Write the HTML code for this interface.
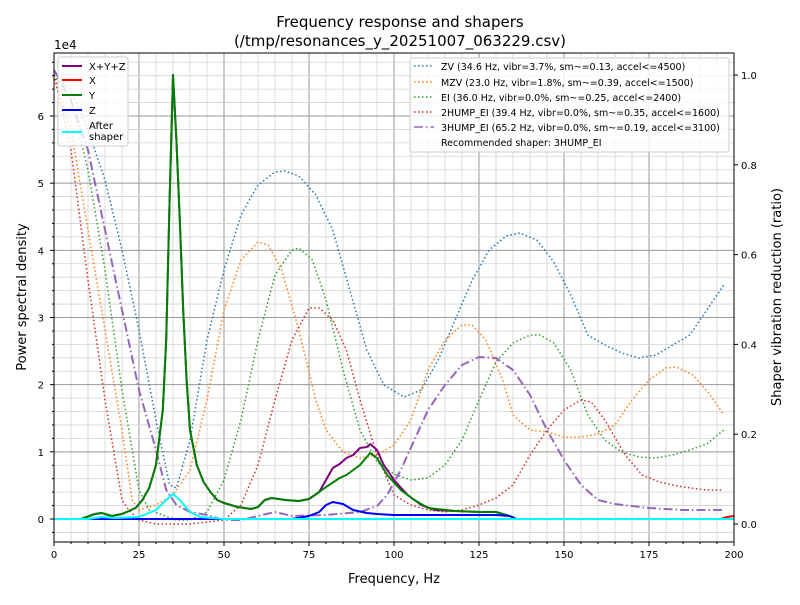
<!DOCTYPE html>
<html><head><meta charset="utf-8"><style>
body{margin:0;background:#fff;}
svg text{font-family:"DejaVu Sans","Liberation Sans",sans-serif;}
</style></head><body>
<svg id="s" width="800" height="600" xmlns="http://www.w3.org/2000/svg">
<rect width="800" height="600" fill="#fff"/>
<g id="grid"></g>
<g id="curves"></g>
<rect x="54" y="53" width="680" height="489" fill="none" stroke="#000" stroke-width="1"/>
<g id="ticks"></g>
<text x="400" y="27" font-size="15" text-anchor="middle">Frequency response and shapers</text>
<text x="400" y="46" font-size="15" text-anchor="middle">(/tmp/resonances_y_20251007_063229.csv)</text>
<text x="54" y="49" font-size="12">1e4</text>
<text x="394" y="583" font-size="13" text-anchor="middle">Frequency, Hz</text>
<text transform="translate(26,297) rotate(-90)" font-size="13" text-anchor="middle">Power spectral density</text>
<text transform="translate(781,297) rotate(-90)" font-size="13" text-anchor="middle">Shaper vibration reduction (ratio)</text>
<g id="leg1">
<rect x="58" y="57" width="70" height="89" fill="#fff" fill-opacity="0.8" stroke="#ccc" rx="2"/>
<line x1="62" y1="66" x2="82" y2="66" stroke="#800080" stroke-width="2"/><text x="89" y="70" font-size="10">X+Y+Z</text>
<line x1="62" y1="80" x2="82" y2="80" stroke="#f00" stroke-width="2"/><text x="89" y="84" font-size="10">X</text>
<line x1="62" y1="95" x2="82" y2="95" stroke="#008000" stroke-width="2"/><text x="89" y="99" font-size="10">Y</text>
<line x1="62" y1="110" x2="82" y2="110" stroke="#00f" stroke-width="2"/><text x="89" y="114" font-size="10">Z</text>
<line x1="62" y1="132" x2="82" y2="132" stroke="#0ff" stroke-width="2"/><text x="89" y="129" font-size="10">After</text><text x="89" y="140" font-size="10">shaper</text>
</g>
<g id="leg2">
<rect x="410" y="58" width="319" height="94" fill="#fff" fill-opacity="0.8" stroke="#ccc" rx="2"/>
<line x1="414" y1="66" x2="434" y2="66" stroke="#1f77b4" stroke-width="1.5" stroke-dasharray="1.5,2.5"/><text x="441" y="70" font-size="9.5">ZV (34.6 Hz, vibr=3.7%, sm~=0.13, accel&lt;=4500)</text>
<line x1="414" y1="82" x2="434" y2="82" stroke="#ff7f0e" stroke-width="1.5" stroke-dasharray="1.5,2.5"/><text x="441" y="86" font-size="9.5">MZV (23.0 Hz, vibr=1.8%, sm~=0.39, accel&lt;=1500)</text>
<line x1="414" y1="97" x2="434" y2="97" stroke="#2ca02c" stroke-width="1.5" stroke-dasharray="1.5,2.5"/><text x="441" y="101" font-size="9.5">EI (36.0 Hz, vibr=0.0%, sm~=0.25, accel&lt;=2400)</text>
<line x1="414" y1="112" x2="434" y2="112" stroke="#d62728" stroke-width="1.5" stroke-dasharray="1.5,2.5"/><text x="441" y="116" font-size="9.5">2HUMP_EI (39.4 Hz, vibr=0.0%, sm~=0.35, accel&lt;=1600)</text>
<line x1="414" y1="127" x2="434" y2="127" stroke="#9467bd" stroke-width="1.5" stroke-dasharray="9,3,1.5,3"/><text x="441" y="131" font-size="9.5">3HUMP_EI (65.2 Hz, vibr=0.0%, sm~=0.19, accel&lt;=3100)</text>
<text x="441" y="146" font-size="9.5">Recommended shaper: 3HUMP_EI</text>
</g>
</svg>
<script>
var NS="http://www.w3.org/2000/svg";
function el(p,t,a){var e=document.createElementNS(NS,t);for(var k in a)e.setAttribute(k,a[k]);p.appendChild(e);return e;}
var G=document.getElementById('grid'),T=document.getElementById('ticks'),C=document.getElementById('curves');
function fx(f){return 54+3.4*f;}
function ly(v){return 519-67.17*v;}
for(var f=5;f<200;f+=5){var maj=f%25==0;el(G,'line',{x1:fx(f),x2:fx(f),y1:53,y2:542,stroke:maj?'#999':'#d3d3d3','stroke-width':maj?1:0.8});}
for(var i=-1;i<=34;i++){var v=i*0.2;var y=ly(v);if(y<53||y>542)continue;var maj=i%5==0;el(G,'line',{x1:54,x2:734,y1:y,y2:y,stroke:maj?'#999':'#d3d3d3','stroke-width':maj?1:0.8});}
for(var f=0;f<=200;f+=5){var maj=f%25==0;el(T,'line',{x1:fx(f),x2:fx(f),y1:542,y2:542+(maj?4:2),stroke:'#000'});if(maj){var t=el(T,'text',{x:fx(f),y:558,'font-size':10,'text-anchor':'middle'});t.textContent=f;}}
for(var i=-1;i<=34;i++){var y=ly(i*0.2);if(y<53||y>542)continue;var maj=i%5==0;el(T,'line',{x1:54,x2:54-(maj?4:2),y1:y,y2:y,stroke:'#000'});if(maj){var t=el(T,'text',{x:44,y:y+4,'font-size':10,'text-anchor':'end'});t.textContent=i/5;}}
for(var i=0;i<=5;i++){var y=524-449*i*0.2;el(T,'line',{x1:734,x2:738,y1:y,y2:y,stroke:'#000'});var t=el(T,'text',{x:741,y:y+4,'font-size':10});t.textContent=(i*0.2).toFixed(1);}
function draw(pts,col,w,dash){var d=pts.map(function(p,i){return (i?'L':'M')+fx(p[0]).toFixed(1)+','+p[1];}).join(' ');var a={d:d,fill:'none',stroke:col,'stroke-width':w,'stroke-linejoin':'round'};if(dash)a['stroke-dasharray']=dash;el(C,'path',a);}
var dot='1.5,2.5';
draw([[0,75],[5,90],[10,130],[15,180],[20,250],[25,330],[30,420],[34,485],[36,488],[40,440],[45,340],[50,270],[55,215],[60,185],[65,172],[68,171],[72,176],[77,195],[82,230],[87,290],[92,350],[97,385],[103,397],[108,390],[113,360],[118,320],[123,280],[128,250],[133,236],[137,233],[142,240],[147,262],[152,295],[157,335],[162,345],[167,353],[172,358],[177,355],[182,345],[187,335],[192,310],[197,285]],'#1f77b4',1.5,dot);
draw([[0,75],[5,130],[10,230],[15,330],[20,430],[23,500],[25,510],[30,505],[35,495],[40,470],[45,400],[50,310],[55,260],[60,242],[63,245],[67,270],[72,330],[77,400],[80,430],[85,452],[90,458],[95,455],[100,445],[105,420],[110,370],[115,340],[120,325],[123,325],[127,340],[132,380],[135,415],[140,430],[145,432],[150,437],[155,437],[160,434],[165,425],[170,400],[175,380],[180,368],[183,367],[188,375],[193,395],[197,415]],'#ff7f0e',1.5,dot);
draw([[0,75],[5,100],[10,170],[15,270],[20,390],[25,490],[28,510],[32,515],[36,520],[40,520],[45,512],[50,480],[55,420],[60,340],[65,275],[70,250],[72,248],[76,260],[80,300],[85,370],[90,430],[95,462],[100,474],[105,480],[110,478],[115,465],[120,440],[125,400],[130,362],[135,343],[140,335],[143,335],[147,343],[152,370],[157,415],[162,440],[167,452],[172,457],[177,458],[182,455],[187,450],[192,444],[197,430]],'#2ca02c',1.5,dot);
draw([[0,75],[5,150],[10,280],[15,400],[18,460],[20,500],[22,510],[25,520],[30,524],[40,524],[50,520],[55,505],[60,465],[65,400],[70,340],[75,308],[78,308],[82,320],[86,350],[90,400],[95,455],[100,495],[105,505],[110,510],[115,512],[120,510],[125,505],[130,498],[135,485],[140,455],[145,430],[150,410],[155,400],[158,402],[162,420],[168,455],[173,475],[178,482],[185,487],[192,490],[197,490]],'#d62728',1.5,dot);
draw([[0,70],[5,100],[10,150],[15,230],[20,310],[25,390],[30,450],[33,490],[36,505],[40,512],[45,515],[50,520],[55,520],[60,516],[65,512],[70,516],[80,515],[90,512],[95,506],[98,495],[102,470],[106,440],[110,410],[115,385],[120,365],[125,357],[130,358],[135,370],[140,395],[145,430],[150,460],[155,485],[160,500],[165,504],[170,506],[175,508],[185,510],[197,510]],'#9467bd',2,'9,3,1.5,3');
var base=[[0,519],[8,519],[12,514],[14,513],[17,516],[20,514],[24,508],[26,500],[28,488],[30,465],[32,410],[33,340],[34,200],[35,75],[36,140],[37,220],[38,310],[39,380],[40,430],[42,465],[44,482],[46,492],[48,500],[50,503],[54,507],[58,509],[60,507],[62,500],[64,498],[68,500],[72,501],[75,499],[78,492]];
draw(base.concat([[80,480],[82,468],[84,464],[86,458],[88,455],[90,448],[92,447],[93,444],[95,450],[97,465],[100,480],[104,495],[108,505],[112,510],[118,511],[125,512],[130,512],[134,516],[136,519],[200,519]]),'#800080',2);
draw([[0,519],[196,519],[198,517],[200,516]],'#f00',2);
draw(base.concat([[80,487],[84,478],[86,475],[90,465],[93,453],[95,458],[98,475],[102,490],[106,500],[110,508],[118,511],[125,512],[130,512],[134,516],[136,519],[200,519]]),'#008000',2);
draw([[0,519],[70,519],[75,516],[78,512],[80,505],[82,502],[85,504],[86,506],[88,510],[92,513],[95,514],[100,515],[130,515],[134,516],[136,519],[200,519]],'#00f',2);
draw([[0,519],[10,519],[14,517],[18,518],[25,517],[30,510],[33,500],[35,494],[37,500],[40,512],[43,517],[50,519],[200,519]],'#0ff',2);
</script>
</body></html>
